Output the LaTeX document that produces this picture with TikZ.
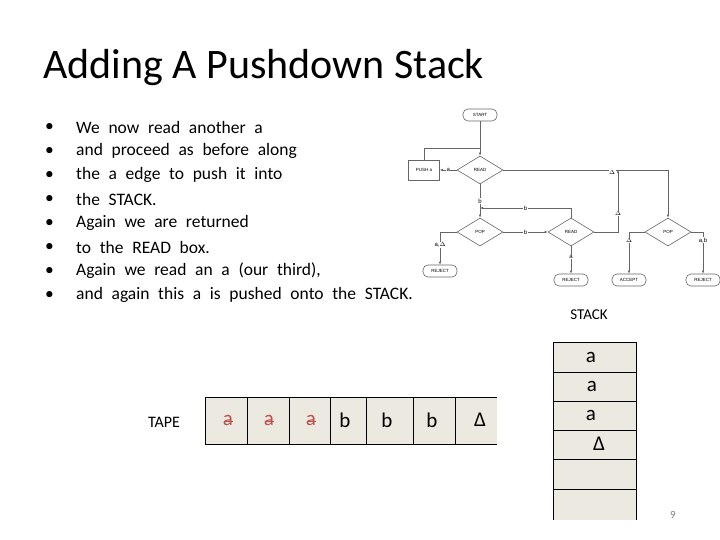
\documentclass[tikz,border=0pt]{standalone}
\usepackage{fontspec}
\setmainfont{Carlito}
\newfontfamily\widefont[WordSpace=2.2]{Carlito}
\newfontfamily\fcsans{Liberation Sans}
\usetikzlibrary{shapes.geometric,arrows.meta}
\definecolor{cellbg}{RGB}{236,233,225}
\definecolor{strk}{RGB}{192,80,77}
\begin{document}
\begin{tikzpicture}[x=1pt,y=-1pt,
  fc/.style={draw=gray!80!black,line width=0.6pt},
  term/.style={fc,rounded corners=5pt,minimum width=34pt,minimum height=12pt,inner sep=0pt,font=\fcsans\fontsize{4.5}{5}\selectfont},
  dia/.style={fc,diamond,aspect=1.65,minimum width=46pt,minimum height=28pt,inner sep=0pt,font=\fcsans\fontsize{4.5}{5}\selectfont},
  lab/.style={font=\fcsans\fontsize{6}{7}\selectfont,fill=white,inner sep=0.5pt},
  ar/.style={fc,-{Latex[length=3pt,width=2.5pt]}},
  bul/.style={anchor=west,font=\widefont\fontsize{17.5}{20}\selectfont,inner sep=0pt},
  cell/.style={font=\fontsize{21}{22}\selectfont}]
\useasboundingbox (0,0) rectangle (720,540);
\node[anchor=west,font=\fontsize{42}{48}\selectfont,inner sep=0pt] (title) at (43,68) {Adding A Pushdown Stack};
\foreach \i/\t in {1/{We now read another a},2/{ and proceed as before along},3/{the a edge to push it into},4/{the STACK.},5/{Again we are returned},6/{ to the READ box.},7/{Again we read an a (our third),},8/{and again this a is pushed onto the STACK.}}{
  \node[bul] (b\i) at (45,103+24*\i) {\textbullet};
  \node[bul] (t\i) at (76,103+24*\i) {\t};
}
% flowchart
\node[term] (start) at (480,115) {START};
\node[dia] (read1) at (480,170) {READ};
\node[fc,minimum width=31pt,minimum height=20pt,inner sep=0pt,font=\fcsans\fontsize{4.5}{5}\selectfont] (push) at (424,170) {PUSH a};
\node[dia] (pop1) at (480,232) {POP};
\node[dia] (read2) at (571,232) {READ};
\node[dia] (pop2) at (668,232) {POP};
\node[term] (rej1) at (440,271) {REJECT};
\node[term] (rej2) at (571,280) {REJECT};
\node[term] (acc) at (629,280) {ACCEPT};
\node[term] (rej3) at (703,280) {REJECT};
\coordinate (j1) at (480,148);
\draw[fc] (start) -- (j1);
\draw[ar] (push.north) |- (j1) -- (read1.north);
\draw[ar] (read1.west) -- node[lab]{a} (push.east);
\draw[ar] (read1.east) -- (668,170) -- (pop2.north);
\node[lab] (ld1) at (612,172) {$\Delta$};
\draw[ar] (read1.south) -- node[lab]{b} (pop1.north);
\draw[ar] (pop1.east) -- node[lab]{b} (read2.west);
\coordinate (j2) at (480,208);
\draw[ar] (read2.north) |- node[lab,pos=0.75]{b} (j2);
\draw[ar] (read2.east) -- (618,232) -- node[lab,pos=0.3]{$\Delta$} (618,170);
\draw[ar] (pop1.west) -| node[lab,pos=0.7]{a,$\Delta$} (rej1.north);
\draw[ar] (read2.south) -- node[lab,pos=0.4]{a} (rej2.north);
\draw[ar] (pop2.west) -| node[lab,pos=0.6]{$\Delta$} (acc.north);
\draw[ar] (pop2.east) -| node[lab,pos=0.6]{a,b} (rej3.north);
% tape
\node[font=\fontsize{16}{18}\selectfont] (tape) at (164,422) {TAPE};
\fill[cellbg] (205,397) rectangle (497,444);
\draw[line width=0.8pt] (497,397) -- (205,397) -- (205,444) -- (497,444);
\foreach \x in {247,289,330,366,413,455}{\draw[line width=0.8pt] (\x,397) -- (\x,444);}
\node[cell,text=strk] (c1) at (228,420) {a};
\node[cell,text=strk] (c2) at (269,420) {a};
\node[cell,text=strk] (c3) at (311,420) {a};
\foreach \c in {c1,c2,c3}{\draw[strk,line width=0.7pt] ([xshift=-4.5pt,yshift=-1pt]\c.center) -- ([xshift=4.5pt,yshift=-1pt]\c.center);}
\node[cell] (c4) at (345,420) {b};
\node[cell] (c5) at (387,420) {b};
\node[cell] (c6) at (432,420) {b};
\node[cell] (c7) at (480,420) {Δ};
% stack
\node[font=\fontsize{15}{17}\selectfont] (stk) at (589,315) {STACK};
\fill[cellbg] (553,342) rectangle (636,520);
\draw[line width=1pt] (553,520) -- (553,342) -- (636,342) -- (636,520);
\foreach \y in {372,401,430,459,489}{\draw[line width=1pt] (553,\y) -- (636,\y);}
\node[cell] (s1) at (591,357) {a};
\node[cell] (s2) at (592,386) {a};
\node[cell] (s3) at (591,415) {a};
\node[cell] (s4) at (599,444) {Δ};
\node[font=\fontsize{11}{12}\selectfont,text=gray] (pg) at (673,515) {9};
\end{tikzpicture}
\end{document}
